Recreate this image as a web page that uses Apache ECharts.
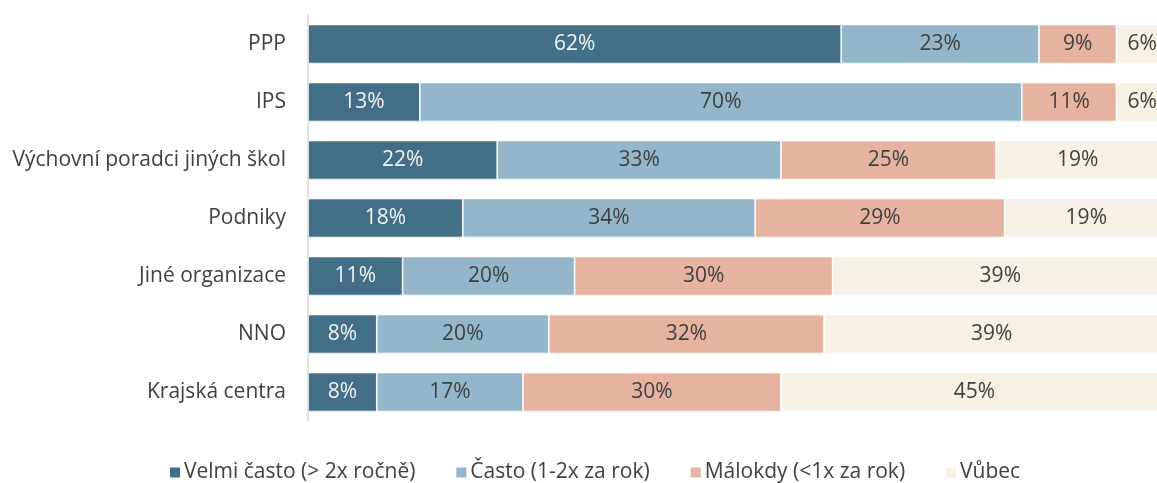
<!DOCTYPE html>
<html>
<head>
<meta charset="utf-8">
<script src="https://cdn.jsdelivr.net/npm/echarts@6/dist/echarts.min.js"></script>
<style>html,body{margin:0;padding:0;background:#fff}#c{width:1157px;height:483px}</style>
</head>
<body>
<div id="c"></div>
<script>
const categories = ["PPP", "IPS", "Výchovní poradci jiných škol", "Podniky", "Jiné organizace", "NNO", "Krajská centra"];
const seriesNames = ["Velmi často (> 2x ročně)", "Často (1-2x za rok)", "Málokdy (<1x za rok)", "Vůbec"];
const velmiCasto = [62, 13, 22, 18, 11, 8, 8];
const casto = [23, 70, 33, 34, 20, 20, 17];
const malokdy = [9, 11, 25, 29, 30, 32, 30];
const vubec = [6, 6, 19, 19, 39, 39, 45];

const colors = ["#426F87", "#93B6CA", "#E5B3A0", "#F7F0E5"];
const labelColors = ["#F2F2F2", "#404040", "#404040", "#404040"];
const FONT = "Open Sans";

const chart = echarts.init(document.getElementById('c'), null, {renderer: 'canvas'});
const allData = [velmiCasto, casto, malokdy, vubec];
chart.setOption({
  animation: false,
  textStyle: {fontFamily: FONT},
  grid: {left: 308, top: 15, width: 860, height: 406, outerBoundsMode: 'none'},
  xAxis: {type: 'value', min: 0, max: 100, show: false},
  yAxis: {
    type: 'category', data: categories, inverse: true,
    axisLine: {show: true, lineStyle: {color: '#D9D9D9', width: 1.5}},
    axisTick: {show: false},
    axisLabel: {color: '#404040', fontSize: 21, fontFamily: FONT, margin: 22}
  },
  legend: {
    data: seriesNames, left: 163, top: 457, itemWidth: 12, itemHeight: 12, itemGap: 39,
    icon: 'rect',
    textStyle: {color: '#404040', fontSize: 21, fontFamily: FONT, padding: [0, 0, 0, -2]}
  },
  series: allData.map((d, i) => ({
    name: seriesNames[i], type: 'bar', stack: 'total', data: d, barWidth: 39,
    itemStyle: {color: colors[i], borderColor: '#FFFFFF', borderWidth: 0.75},
    label: {show: true, position: 'inside', formatter: p => p.value + '%',
      color: labelColors[i], fontSize: 21, fontFamily: FONT}
  }))
});
</script>
</body>
</html>
